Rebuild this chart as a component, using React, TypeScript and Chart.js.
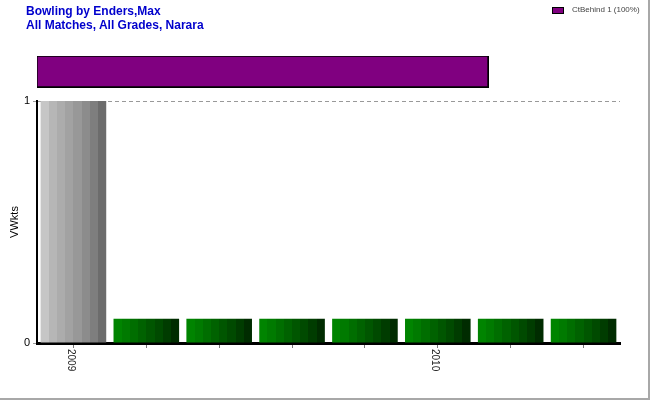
import React, { useEffect, useRef } from 'react';
import { Chart, registerables } from 'chart.js';

Chart.register(...registerables);

// ---- data ----
const titleLines = ['Bowling by Enders,Max', 'All Matches, All Grades, Narara'];
const categories = ['2009', '', '', '', '', '2010', '', ''];
const vwkts = [1, 0.1, 0.1, 0.1, 0.1, 0.1, 0.1, 0.1];
const yAxisTitle = 'VWkts';
const yMin = 0;
const yMax = 1;
const dismissalLabels = ['CtBehind 1 (100%)'];
const dismissalPct = [100];

// ---- styles ----
const GRAY_BANDS = ['#c6c6c6', '#b6b6b6', '#acacac', '#a2a2a2', '#989898', '#8c8c8c', '#7e7e7e', '#6c6c6c'];
const GREEN_BANDS = ['#008400', '#007a00', '#006e00', '#006200', '#005600', '#004a00', '#003c00', '#002c00'];
const BAR_PCT = 0.9;

function bandGradient(ctx: CanvasRenderingContext2D, x0: number, x1: number, bands: string[]) {
  const g = ctx.createLinearGradient(x0, 0, x1, 0);
  const n = bands.length;
  bands.forEach((c, i) => {
    g.addColorStop(i / n, c);
    g.addColorStop((i + 1) / n, c);
  });
  return g;
}

const rotatedXLabels = {
  id: 'rotatedXLabels',
  afterDraw(chart: any) {
    const xs = chart.scales.x;
    const ctx = chart.ctx as CanvasRenderingContext2D;
    ctx.save();
    ctx.font = '10px Arial, "Liberation Sans", sans-serif';
    ctx.fillStyle = '#222';
    ctx.textAlign = 'left';
    ctx.textBaseline = 'middle';
    categories.forEach((lab, i) => {
      if (!lab) return;
      const x = xs.getPixelForTick(i);
      ctx.save();
      ctx.translate(x - 3, xs.top + 6);
      ctx.rotate(Math.PI / 2);
      ctx.fillText(lab, 0, 0);
      ctx.restore();
    });
    ctx.restore();
  },
};

export default function App() {
  const mainRef = useRef<HTMLCanvasElement>(null);
  const topRef = useRef<HTMLCanvasElement>(null);

  useEffect(() => {
    const main = new Chart(mainRef.current!, {
      type: 'bar',
      data: {
        labels: categories,
        datasets: [
          {
            label: yAxisTitle,
            data: vwkts,
            backgroundColor: (c: any) => {
              const chart = c.chart;
              const xs = chart.scales && chart.scales.x;
              const bands = vwkts[c.dataIndex] >= yMax ? GRAY_BANDS : GREEN_BANDS;
              if (!xs || c.dataIndex === undefined) return bands[3];
              const cx = xs.getPixelForValue(c.dataIndex);
              const w = ((xs.right - xs.left) / categories.length) * BAR_PCT;
              if (!isFinite(cx) || !isFinite(w) || w <= 0) return bands[3];
              return bandGradient(chart.ctx, cx - w / 2, cx + w / 2, bands);
            },
            borderWidth: 0,
            barPercentage: BAR_PCT,
            categoryPercentage: 1,
          },
        ],
      },
      options: {
        responsive: false,
        animation: false,
        layout: { padding: { left: 0, right: 30, top: 101, bottom: 0 } },
        scales: {
          x: {
            offset: true,
            grid: {
              offset: false,
              drawOnChartArea: false,
              drawTicks: true,
              tickLength: 5,
              tickColor: '#777',
            },
            border: { display: true, color: '#000', width: 3 },
            ticks: { display: false, autoSkip: false },
            afterFit: (s: any) => {
              s.height = 57;
            },
          },
          y: {
            min: yMin,
            max: yMax,
            ticks: {
              stepSize: 1,
              color: '#000',
              padding: 3,
              font: { family: 'Arial, "Liberation Sans", sans-serif', size: 11 },
            },
            grid: { color: '#999', tickLength: 4, tickColor: '#999' },
            border: { display: true, color: '#000', width: 2, dash: [4, 3] },
            title: {
              display: true,
              text: yAxisTitle,
              color: '#000',
              padding: { top: 8, bottom: 0 },
              font: { family: 'Arial, "Liberation Sans", sans-serif', size: 11 },
            },
            afterFit: (s: any) => {
              s.width = 37;
            },
          },
        },
        plugins: {
          legend: { display: false },
          tooltip: { enabled: false },
          title: { display: false },
        },
      },
      plugins: [rotatedXLabels],
    } as any);
    // re-resolve colours now that the scales are laid out
    main.update();

    const top = new Chart(topRef.current!, {
      type: 'bar',
      data: {
        labels: dismissalLabels,
        datasets: [
          {
            label: dismissalLabels[0],
            data: dismissalPct,
            backgroundColor: '#800080',
            borderColor: '#000',
            borderWidth: { top: 1, left: 1, right: 2, bottom: 2 },
            borderSkipped: false,
            barPercentage: 1,
            categoryPercentage: 1,
          },
        ],
      },
      options: {
        indexAxis: 'y',
        responsive: false,
        animation: false,
        layout: { padding: { left: 37, right: 161, top: 56, bottom: 12 } },
        scales: {
          x: { display: false, min: 0, max: 100 },
          y: { display: false },
        },
        plugins: { legend: { display: false }, tooltip: { enabled: false } },
      },
    } as any);

    return () => {
      main.destroy();
      top.destroy();
    };
  }, []);

  return (
    <div
      style={{
        position: 'absolute',
        left: 0,
        top: 0,
        width: 650,
        height: 400,
        background: '#fff',
        overflow: 'hidden',
        fontFamily: 'Arial, "Liberation Sans", sans-serif',
      }}
    >
      <canvas ref={mainRef} width={650} height={400} style={{ position: 'absolute', left: 0, top: 0 }} />
      <canvas ref={topRef} width={650} height={100} style={{ position: 'absolute', left: 0, top: 0 }} />
      <div
        style={{
          position: 'absolute',
          left: 26,
          top: 4,
          color: '#0000cc',
          fontWeight: 'bold',
          fontSize: 12,
          lineHeight: '14px',
          whiteSpace: 'nowrap',
        }}
      >
        {titleLines.map((t, i) => (
          <div key={i}>{t}</div>
        ))}
      </div>
      <div
        style={{
          position: 'absolute',
          left: 552,
          top: 4,
          display: 'flex',
          alignItems: 'center',
          fontSize: 8,
          lineHeight: '12px',
          color: '#444',
          whiteSpace: 'nowrap',
        }}
      >
        <span
          style={{
            display: 'inline-block',
            width: 10,
            height: 5,
            background: '#800080',
            border: '1px solid #000',
            marginRight: 8,
          }}
        />
        <span>{dismissalLabels[0]}</span>
      </div>
      <div
        style={{
          position: 'absolute',
          left: 0,
          top: 0,
          width: 650,
          height: 400,
          boxSizing: 'border-box',
          borderRight: '2px solid #a8a8a8',
          borderBottom: '2px solid #a8a8a8',
          pointerEvents: 'none',
        }}
      />
    </div>
  );
}
